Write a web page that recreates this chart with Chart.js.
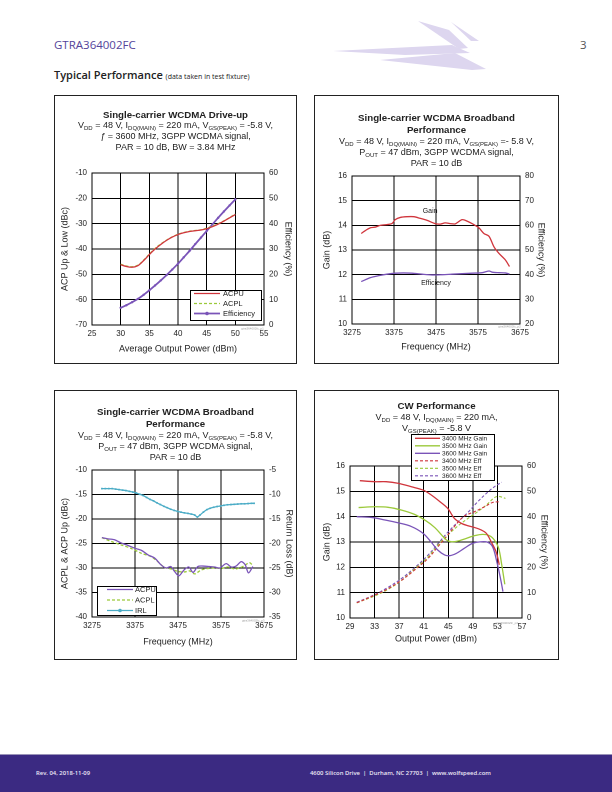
<!DOCTYPE html>
<html>
<head>
<meta charset="utf-8">
<script src="https://cdn.jsdelivr.net/npm/chart.js@4.4.1/dist/chart.umd.min.js"></script>
<style>
body { margin: 0; width: 612px; height: 792px; position: relative; background: #fff; overflow: hidden; font-family: "Liberation Sans", Arial, sans-serif; }
canvas { position: absolute; }
.box { position: absolute; border: 1px solid #222; box-sizing: border-box; pointer-events: none; }
.ttl { position: absolute; text-align: center; color: #222; font-size: 9px; line-height: 10.8px; white-space: nowrap; }
.ttl b { font-size: 9.7px; }
sub { font-size: 6px; vertical-align: -1.5px; line-height: 0; }
#hdr { position: absolute; left: 54px; top: 37px; color: #54449a; font: 400 11.5px "Open Sans", "Noto Sans", sans-serif; }
#pg { position: absolute; left: 580px; top: 37px; color: #555; font: 11.5px "Open Sans", sans-serif; }
#sec { position: absolute; left: 54px; top: 67px; color: #222; font: 600 11px "Open Sans", "Noto Sans", sans-serif; }
#sec span { font-size: 7px; font-weight: 400; }
#foot { position: absolute; left: 0; top: 754px; width: 612px; height: 38px; background: #3b2a82; border-top: 1px solid #9a93b8; }
#foot div { position: absolute; top: 14px; color: #ece8f6; font: 600 5.9px "Open Sans", "Noto Sans", sans-serif; }
</style>
</head>
<body>
<svg width="612" height="90" style="position:absolute;left:0;top:0">
  <g fill="#ddd6ef">
    <polygon points="418,21 449,30 468,48 459,49"/>
    <polygon points="333,51 452,45 470,53 405,55"/>
    <polygon points="451,22 479,41 471,41"/>
    <polygon points="380,60 455,53 486,69 472,70"/>
  </g>
</svg>
<div id="hdr">GTRA364002FC</div>
<div id="pg">3</div>
<div id="sec">Typical Performance <span>(data taken in test fixture)</span></div>

<canvas id="c1" width="243" height="269" style="left:54px;top:95px"></canvas>
<canvas id="c2" width="245" height="269" style="left:314px;top:95px"></canvas>
<canvas id="c3" width="243" height="270" style="left:54px;top:390px"></canvas>
<canvas id="c4" width="245" height="270" style="left:314px;top:390px"></canvas>

<div class="box" style="left:54px;top:95px;width:243px;height:269px"></div>
<div class="box" style="left:314px;top:95px;width:245px;height:269px"></div>
<div class="box" style="left:54px;top:390px;width:243px;height:270px"></div>
<div class="box" style="left:314px;top:390px;width:245px;height:270px"></div>

<div class="ttl" style="left:54px;width:243px;top:109.6px"><b>Single-carrier WCDMA Drive-up</b><br>V<sub>DD</sub> = 48 V, I<sub>DQ(MAIN)</sub> = 220 mA, V<sub>GS(PEAK)</sub> = -5.8 V,<br><i>ƒ</i> = 3600 MHz, 3GPP WCDMA signal,<br>PAR = 10 dB, BW = 3.84 MHz</div>
<div class="ttl" style="left:314px;width:245px;top:111.5px;line-height:11px"><b>Single-carrier WCDMA Broadband<br>Performance</b><br>V<sub>DD</sub> = 48 V, I<sub>DQ(MAIN)</sub> = 220 mA, V<sub>GS(PEAK)</sub> =- 5.8 V,<br>P<sub>OUT</sub> = 47 dBm, 3GPP WCDMA signal,<br>PAR = 10 dB</div>
<div class="ttl" style="left:54px;width:243px;top:405.5px;line-height:11.2px"><b>Single-carrier WCDMA Broadband<br>Performance</b><br>V<sub>DD</sub> = 48 V, I<sub>DQ(MAIN)</sub> = 220 mA, V<sub>GS(PEAK)</sub> = -5.8 V,<br>P<sub>OUT</sub> = 47 dBm, 3GPP WCDMA signal,<br>PAR = 10 dB</div>
<div class="ttl" style="left:314px;width:245px;top:399.5px;line-height:11px"><b>CW Performance</b><br>V<sub>DD</sub> = 48 V, I<sub>DQ(MAIN)</sub> = 220 mA,<br>V<sub>GS(PEAK)</sub> = -5.8 V</div>

<div id="foot">
  <div style="left:36px">Rev. 04, 2018-11-09</div>
  <div style="left:310px">4600 Silicon Drive &nbsp;|&nbsp; Durham, NC 27703 &nbsp;|&nbsp; www.wolfspeed.com</div>
</div>

<script>
// Drive-up (chart 1)
const drivePower = [30, 31, 32, 33, 34, 35, 36, 37, 38, 39, 40, 41, 42, 43, 44, 45, 46, 47, 48, 49, 50];
const driveAcpu = [-46.2, -46.9, -47.2, -46.6, -44.6, -42.2, -40.0, -38.2, -36.6, -35.3, -34.3, -33.6, -33.1, -32.8, -32.5, -32.0, -31.2, -30.2, -29.0, -27.7, -26.4];
const driveAcpl = [-46.0, -46.7, -47.0, -46.4, -44.4, -42.0, -39.8, -38.0, -36.5, -35.2, -34.2, -33.5, -33.0, -32.7, -32.4, -31.8, -31.0, -30.0, -28.9, -27.6, -26.2];
const driveEff = [6.8, 7.8, 9.0, 10.3, 11.9, 13.7, 15.6, 17.6, 19.7, 21.9, 24.2, 26.7, 29.2, 31.9, 34.5, 37.1, 39.7, 42.3, 44.8, 47.2, 49.6];

// Broadband gain / efficiency (chart 2)
const bbGainFreq = [3297, 3307, 3319, 3331, 3342, 3358, 3370, 3378, 3390, 3406, 3422, 3438, 3454, 3473, 3485, 3497, 3509, 3521, 3537, 3549, 3565, 3577, 3589, 3601, 3613, 3625, 3640, 3650];
const bbGain = [13.67, 13.79, 13.9, 13.93, 14.0, 14.03, 14.07, 14.23, 14.32, 14.35, 14.35, 14.28, 14.2, 14.07, 14.05, 14.1, 14.07, 14.06, 14.23, 14.17, 14.03, 13.9, 13.67, 13.56, 13.13, 12.86, 12.6, 12.33];
const bbEffFreq = [3297, 3319, 3339, 3358, 3378, 3398, 3418, 3442, 3466, 3490, 3513, 3537, 3561, 3585, 3601, 3609, 3625, 3640, 3650];
const bbEff = [37.2, 38.8, 39.6, 40.2, 40.6, 40.7, 40.6, 40.2, 39.9, 40.0, 40.2, 40.4, 40.6, 40.8, 41.5, 41.0, 40.8, 40.7, 40.3];

// Broadband ACP / IRL (chart 3)
const acpuFreq = [3298, 3312, 3328, 3343, 3359, 3374, 3390, 3405, 3421, 3436, 3448, 3458, 3467, 3477, 3489, 3500, 3510, 3521, 3533, 3548, 3560, 3572, 3587, 3599, 3610, 3622, 3631, 3639, 3649];
const acpuBB = [-23.8, -24.05, -24.25, -24.9, -25.4, -25.95, -26.4, -27.3, -28.0, -29.4, -30.0, -29.7, -30.7, -31.6, -30.4, -29.8, -30.9, -29.7, -29.6, -29.7, -29.8, -30.0, -29.1, -29.8, -29.6, -28.7, -29.3, -31.0, -29.7];
const acplFreq = [3298, 3320, 3343, 3366, 3390, 3413, 3428, 3444, 3460, 3475, 3491, 3502, 3514, 3529, 3545, 3560, 3576, 3591, 3607, 3618, 3630, 3641, 3649];
const acplBB = [-23.8, -24.6, -25.3, -26.0, -27.0, -27.7, -28.7, -29.9, -30.2, -30.7, -30.8, -30.6, -31.2, -30.4, -30.1, -30.0, -30.1, -29.8, -30.2, -30.0, -29.5, -28.9, -29.5];
const irlFreq = [3298, 3306, 3314, 3322, 3330, 3338, 3346, 3354, 3362, 3370, 3378, 3386, 3394, 3402, 3410, 3418, 3426, 3434, 3442, 3450, 3458, 3466, 3474, 3482, 3490, 3498, 3506, 3514, 3520, 3526, 3534, 3542, 3550, 3558, 3566, 3574, 3582, 3590, 3598, 3606, 3614, 3622, 3630, 3638, 3646, 3652];
const irl = [-8.8, -8.8, -8.8, -8.8, -8.9, -9.0, -9.1, -9.2, -9.35, -9.5, -9.7, -9.95, -10.2, -10.6, -11.0, -11.3, -11.7, -12.05, -12.4, -12.7, -13.0, -13.25, -13.45, -13.6, -13.75, -13.85, -14.0, -14.2, -14.6, -14.2, -13.6, -13.1, -12.8, -12.6, -12.45, -12.35, -12.2, -12.1, -12.05, -12.0, -11.95, -11.9, -11.9, -11.85, -11.8, -11.8];

// CW performance (chart 4)
const g3400x = [30.6, 33, 34.9, 36.8, 39.0, 40.9, 42.2, 43.6, 44.9, 46.0, 47.1, 48.2, 49.3, 50.4, 51.2, 52.0, 52.8, 53.3];
const g3400 = [15.42, 15.38, 15.38, 15.32, 15.18, 15.05, 14.86, 14.6, 14.33, 13.93, 13.74, 13.64, 13.57, 13.47, 13.34, 13.0, 12.6, 12.1];
const g3500x = [30.4, 33, 35.2, 37.4, 39.5, 41.4, 42.8, 43.9, 44.7, 45.5, 46.6, 47.9, 49.3, 50.6, 51.7, 52.5, 53.2, 53.7, 54.2];
const g3500 = [14.36, 14.39, 14.37, 14.26, 14.09, 13.83, 13.57, 13.28, 13.08, 13.01, 13.04, 13.14, 13.25, 13.3, 13.25, 13.08, 12.75, 12.1, 11.33];
const g3600x = [30.1, 32.5, 34.7, 36.8, 39.0, 40.9, 42.2, 43.3, 44.4, 45.2, 46.3, 47.6, 49.0, 50.4, 51.4, 52.2, 52.9, 53.5, 53.9];
const g3600 = [14.0, 13.97, 13.87, 13.76, 13.61, 13.34, 13.0, 12.68, 12.49, 12.46, 12.55, 12.75, 12.95, 13.01, 12.99, 12.82, 12.22, 11.56, 11.04];
const e3400x = [30.1, 33, 35.2, 37.4, 39.5, 41.7, 43.3, 44.9, 46.4, 47.6, 49.3, 50.9, 52.2, 53.3];
const e3400 = [6.0, 9.0, 11.6, 14.9, 18.9, 23.5, 28.1, 32.7, 37.3, 40.2, 42.0, 43.9, 45.6, 45.9];
const e3500x = [30.1, 33, 35.2, 37.4, 39.5, 41.7, 43.3, 44.9, 46.6, 48.2, 49.8, 51.2, 52.5, 53.2, 54.3];
const e3500 = [6.0, 8.7, 11.3, 14.9, 19.3, 24.1, 28.8, 32.7, 36.4, 39.3, 42.0, 44.6, 47.5, 48.0, 47.2];
const e3600x = [30.1, 33, 35.2, 37.4, 39.5, 41.7, 43.3, 44.9, 46.6, 48.2, 49.8, 51.2, 52.5, 53.7];
const e3600 = [6.2, 9.2, 12.1, 15.6, 19.8, 24.8, 29.3, 33.8, 38.0, 41.7, 45.9, 49.2, 51.8, 53.6];

const RED = '#d0353c';
const GREEN = '#9bc93a';
const PURPLE = '#7a54b8';
const CYAN = '#4bacc6';
const INK = '#222';

function pts(xs, ys) {
    return xs.map((x, i) => ({ x: x, y: ys[i] }));
}

// legend box drawn inside the plot, entries taken from the datasets
const boxLegend = {
    id: 'boxLegend',
    afterDraw(chart, args, o) {
        if (!o || !o.w) return;
        const ctx = chart.ctx;
        ctx.save();
        ctx.fillStyle = '#fff';
        ctx.fillRect(o.x, o.y, o.w, o.h);
        ctx.strokeStyle = '#000';
        ctx.lineWidth = 1;
        ctx.strokeRect(o.x + 0.5, o.y + 0.5, o.w, o.h);
        ctx.font = o.font;
        ctx.textBaseline = 'middle';
        chart.data.datasets.forEach((ds, i) => {
            const y = o.y + o.first + i * o.row;
            ctx.strokeStyle = ds.borderColor;
            ctx.lineWidth = ds.borderWidth;
            ctx.setLineDash(ds.borderDash || []);
            ctx.beginPath();
            ctx.moveTo(o.x + o.l0, y);
            ctx.lineTo(o.x + o.l1, y);
            ctx.stroke();
            ctx.setLineDash([]);
            if (ds.pointRadius) {
                ctx.fillStyle = ds.borderColor;
                ctx.beginPath();
                ctx.arc(o.x + (o.l0 + o.l1) / 2, y, 1.8, 0, Math.PI * 2);
                ctx.fill();
            }
            ctx.fillStyle = INK;
            ctx.fillText(ds.label, o.x + o.tx, y + 0.5);
        });
        ctx.restore();
    }
};

// free text placed in data coordinates
const notes = {
    id: 'notes',
    afterDraw(chart, args, o) {
        if (!o || !o.items) return;
        const ctx = chart.ctx;
        ctx.save();
        o.items.forEach(n => {
            const sx = chart.scales.x.getPixelForValue(n.x);
            const sy = chart.scales[n.axis || 'y'].getPixelForValue(n.y);
            ctx.font = n.font;
            ctx.fillStyle = n.color || INK;
            ctx.textAlign = 'center';
            ctx.textBaseline = 'middle';
            ctx.fillText(n.text, sx, sy);
        });
        ctx.restore();
    }
};

function tickFont() { return { family: 'Liberation Sans', size: 8 }; }
function titleFont() { return { family: 'Liberation Sans', size: 9 }; }

function axis(pos, min, max, step, title, offset, size, grid) {
    const horiz = pos === 'bottom';
    const pad = offset - 5.4;
    return {
        type: 'linear',
        position: pos,
        min: min,
        max: max,
        ticks: { stepSize: step, callback: v => v, font: tickFont(), color: INK, padding: horiz ? 4 : 5, maxRotation: 0, autoSkip: false },
        grid: { display: grid, color: '#000', lineWidth: 1, drawTicks: false },
        border: { color: '#000', width: 1 },
        title: { display: true, text: title, font: titleFont(), color: INK, padding: horiz ? { top: 0, bottom: pad } : { top: pad, bottom: 0 } },
        afterFit: s => { if (horiz) s.height = size; else s.width = size; }
    };
}

function line(label, data, color, width, extra) {
    return Object.assign({
        label: label, data: data, borderColor: color, backgroundColor: color,
        borderWidth: width, pointRadius: 0, tension: 0.35, fill: false
    }, extra || {});
}

function make(id, top, datasets, scales, legend, noteItems) {
    return new Chart(document.getElementById(id), {
        type: 'line',
        data: { datasets: datasets },
        options: {
            responsive: false,
            animation: false,
            devicePixelRatio: 2,
            layout: { padding: { top: top, left: 0, right: 0, bottom: 0 } },
            plugins: {
                legend: { display: false },
                tooltip: { enabled: false },
                boxLegend: legend,
                notes: { items: noteItems || [] }
            },
            scales: scales
        },
        plugins: [boxLegend, notes]
    });
}

// Chart 1
make('c1', 78, [
    line('ACPU', pts(drivePower, driveAcpu), RED, 1.3, { yAxisID: 'y' }),
    line('ACPL', pts(drivePower, driveAcpl), GREEN, 1.3, { yAxisID: 'y', borderDash: [3, 2] }),
    line('Efficiency', pts(drivePower, driveEff), PURPLE, 1.8, { yAxisID: 'y2', pointRadius: 1.2, pointBorderWidth: 0 })
], {
    x: axis('bottom', 25, 55, 5, 'Average Output Power (dBm)', 15, 39, true),
    y: axis('left', -70, -10, 10, 'ACP Up & Low (dBc)', 11, 38, true),
    y2: axis('right', 0, 60, 10, 'Efficiency (%)', 9, 33, false)
}, { x: 136, y: 195, w: 71, h: 30, first: 3.5, row: 10, l0: 4, l1: 30, tx: 33, font: '7.5px "Liberation Sans"' },
[{ x: 53, y: -71.5, text: 'gtra364002fc_p1', font: '3px "Liberation Sans"', color: '#999' }]);

// Chart 2
make('c2', 81, [
    line('Gain', pts(bbGainFreq, bbGain), RED, 1.3, { yAxisID: 'y', tension: 0.3 }),
    line('Efficiency', pts(bbEffFreq, bbEff), PURPLE, 1.3, { yAxisID: 'y2', tension: 0.3 })
], {
    x: axis('bottom', 3275, 3675, 100, 'Frequency (MHz)', 17, 40, true),
    y: axis('left', 10, 16, 1, 'Gain (dB)', 13, 38, true),
    y2: axis('right', 20, 80, 10, 'Efficiency (%)', 18, 39, false)
}, null, [
    { x: 3461, y: 14.58, text: 'Gain', font: '7px "Liberation Sans"' },
    { x: 3475, y: 11.66, text: 'Efficiency', font: '7px "Liberation Sans"' },
    { x: 3650, y: 9.9, text: 'gtra364002fc_p2', font: '3px "Liberation Sans"', color: '#999' }
]);

// Chart 3
make('c3', 80, [
    line('ACPU', pts(acpuFreq, acpuBB), PURPLE, 1.3, { yAxisID: 'y', tension: 0.3 }),
    line('ACPL', pts(acplFreq, acplBB), GREEN, 1.3, { yAxisID: 'y', borderDash: [3, 2], tension: 0.3 }),
    line('IRL', pts(irlFreq, irl), CYAN, 1.3, { yAxisID: 'y2', pointRadius: 1.2, pointStyle: 'rect', pointBorderWidth: 0, tension: 0.2 })
], {
    x: axis('bottom', 3275, 3675, 100, 'Frequency (MHz)', 18, 43, true),
    y: axis('left', -40, -10, 5, 'ACPL & ACP Up (dBc)', 11, 38, true),
    y2: axis('right', -35, -5, 5, 'Return Loss (dB)', 8, 33, false)
}, { x: 43, y: 196, w: 59, h: 29, first: 3.5, row: 10.5, l0: 10, l1: 36, tx: 38, font: '7.5px "Liberation Sans"' },
[{ x: 3650, y: -40.8, text: 'gtra364002fc_p3', font: '3px "Liberation Sans"', color: '#999' }]);

// Chart 4
make('c4', 76, [
    line('3400 MHz Gain', pts(g3400x, g3400), RED, 1.3, { yAxisID: 'y' }),
    line('3500 MHz Gain', pts(g3500x, g3500), GREEN, 1.3, { yAxisID: 'y' }),
    line('3600 MHz Gain', pts(g3600x, g3600), PURPLE, 1.3, { yAxisID: 'y' }),
    line('3400 MHz Eff', pts(e3400x, e3400), RED, 1.1, { yAxisID: 'y2', borderDash: [3, 2] }),
    line('3500 MHz Eff', pts(e3500x, e3500), GREEN, 1.1, { yAxisID: 'y2', borderDash: [3, 2] }),
    line('3600 MHz Eff', pts(e3600x, e3600), PURPLE, 1.1, { yAxisID: 'y2', borderDash: [3, 2] })
], {
    x: axis('bottom', 29, 57, 4, 'Output Power (dBm)', 21, 42, true),
    y: axis('left', 10, 16, 1, 'Gain (dB)', 13, 36, true),
    y2: axis('right', 0, 60, 10, 'Efficiency (%)', 15, 37, false)
}, { x: 97, y: 44, w: 83, h: 46, first: 4.3, row: 7.5, l0: 4, l1: 29, tx: 31, font: '6.5px "Liberation Sans"' },
[{ x: 54.5, y: 9.8, text: 'gtra364002fc_p4', font: '3px "Liberation Sans"', color: '#999' }]);
</script>
</body>
</html>
